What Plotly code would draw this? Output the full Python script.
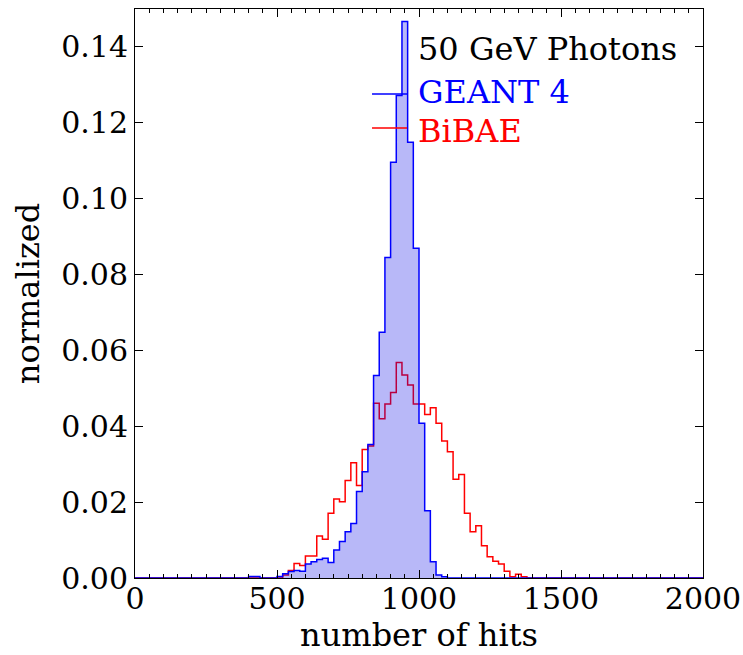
import plotly.graph_objects as go

bin_width = 20
n_bins = 100
edges = [i * bin_width for i in range(n_bins + 1)]

# GEANT 4 normalized counts, non-zero bins (bin index -> value)
geant4_bins = {
    20: 0.0004, 21: 0.0004, 25: 0.0004, 26: 0.0011, 27: 0.0017, 28: 0.0020,
    29: 0.0018, 30: 0.0037, 31: 0.0043, 32: 0.0049, 33: 0.0052, 34: 0.0041,
    35: 0.0074, 36: 0.0096, 37: 0.0122, 38: 0.0144, 39: 0.0228, 40: 0.0280,
    41: 0.0352, 42: 0.0534, 43: 0.0648, 44: 0.0845, 45: 0.1096, 46: 0.1272,
    47: 0.1467, 48: 0.1149, 49: 0.0869, 50: 0.0408, 51: 0.0177, 52: 0.0043,
    53: 0.0008, 54: 0.0003,
}
# BiBAE normalized counts
bibae_bins = {
    26: 0.0008, 27: 0.0020, 28: 0.0038, 29: 0.0033, 30: 0.0058, 31: 0.0058,
    32: 0.0111, 33: 0.0102, 34: 0.0171, 35: 0.0208, 36: 0.0201, 37: 0.0257,
    38: 0.0304, 39: 0.0244, 40: 0.0339, 41: 0.0348, 42: 0.0461, 43: 0.0420,
    44: 0.0459, 45: 0.0489, 46: 0.0568, 47: 0.0535, 48: 0.0509, 49: 0.0459,
    50: 0.0459, 51: 0.0431, 52: 0.0449, 53: 0.0408, 54: 0.0361, 55: 0.0333,
    56: 0.0260, 57: 0.0273, 58: 0.0171, 59: 0.0122, 60: 0.0138, 61: 0.0085,
    62: 0.0056, 63: 0.0044, 64: 0.0037, 65: 0.0018, 66: 0.0003, 67: 0.0010,
    68: 0.0003,
}

geant4 = [geant4_bins.get(i, 0.0) for i in range(n_bins)]
bibae = [bibae_bins.get(i, 0.0) for i in range(n_bins)]

x_ticks = [0, 500, 1000, 1500, 2000]
y_ticks = [0.00, 0.02, 0.04, 0.06, 0.08, 0.10, 0.12, 0.14]

legend_title = "50 GeV Photons"
legend_names = ["GEANT 4", "BiBAE"]
legend_colors = ["rgb(0,0,255)", "rgb(255,0,0)"]

FONT = "DejaVu Serif"
FS = 30
FL = 32

fig = go.Figure()
fig.add_trace(go.Scatter(
    x=edges, y=bibae + [bibae[-1]], mode="lines", line_shape="hv",
    line=dict(color="rgb(255,0,0)", width=1.5), showlegend=False,
))
fig.add_trace(go.Scatter(
    x=edges, y=geant4 + [geant4[-1]], mode="lines", line_shape="hv",
    fill="tozeroy", fillcolor="rgba(0,0,230,0.28)",
    line=dict(color="rgb(0,0,255)", width=1.5), showlegend=False,
))

axis_common = dict(
    showgrid=False, zeroline=False, showline=True, linecolor="black", linewidth=1,
    mirror="allticks", ticks="inside", tickcolor="black", ticklen=8, tickwidth=1,
    tickfont=dict(family=FONT, size=FS, color="black"), automargin=False,
)
fig.update_xaxes(
    range=[0, 2000], tickvals=x_ticks, ticktext=[str(v) for v in x_ticks],
    minor=dict(dtick=50, ticks="inside", ticklen=4, tickcolor="black", tickwidth=1),
    ticklabelstandoff=-6,
    title=dict(text="number of hits", font=dict(family=FONT, size=FL, color="black"), standoff=4),
    **axis_common,
)
fig.update_yaxes(
    range=[0, 0.15], tickvals=y_ticks, ticktext=[f"{v:.2f}" for v in y_ticks],
    title=dict(text="normalized", font=dict(family=FONT, size=FL, color="black"), standoff=12),
    **axis_common,
)

# legend built from annotations + handle lines (paper coords)
fig.add_annotation(
    x=0.497, y=0.930, xref="paper", yref="paper", xanchor="left", yanchor="middle",
    text=legend_title, showarrow=False, height=32, borderpad=0,
    font=dict(family=FONT, size=FL, color="black"),
)
handle_y = [0.8506, 0.7909]
text_y = [0.8535, 0.7856]
for name, col, hy, ty in zip(legend_names, legend_colors, handle_y, text_y):
    fig.add_shape(type="line", xref="paper", yref="paper", x0=0.4173, x1=0.4789,
                  y0=hy, y1=hy, line=dict(color=col, width=1.5))
    fig.add_annotation(
        x=0.497, y=ty, xref="paper", yref="paper", xanchor="left", yanchor="middle",
        text=name, showarrow=False, height=32, borderpad=0,
        font=dict(family=FONT, size=FL, color=col),
    )

fig.update_layout(
    width=743, height=655,
    margin=dict(l=135, r=40, t=9, b=77),
    plot_bgcolor="white", paper_bgcolor="white",
    showlegend=False,
)
fig.write_html("out.html")
